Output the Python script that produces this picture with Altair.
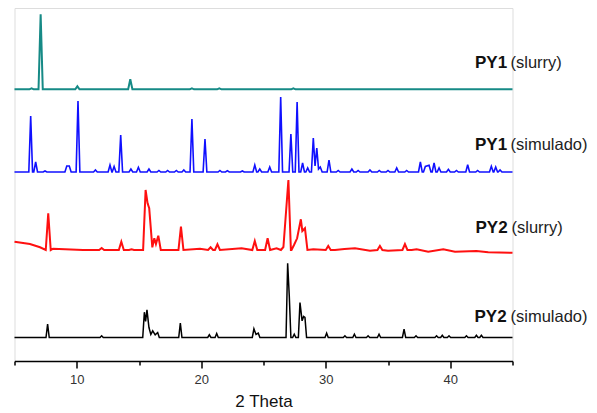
import altair as alt
import pandas as pd

# ---- data (2-theta in degrees, intensity in a.u.) ----
x_domain = [5, 45]
tick_values = [5, 10, 15, 20, 25, 30, 35, 40, 45]

series_names = ["PY1 (slurry)", "PY1 (simulado)", "PY2 (slurry)", "PY2 (simulado)"]
series_offsets = [271.7, 189.0, 111.0, 23.5]

teal_pos = [6.37, 7.1, 10.05, 14.3, 19.25, 21.45, 27.4]
teal_int = [1, 75, 3, 10, 1, 1, 1]

blue_pos = [6.30, 6.70, 7.45, 9.2, 9.4, 10.1, 11.5, 12.67, 13.0, 13.53, 14.35, 14.95, 15.8,
            16.6, 17.3, 18.0, 18.6, 19.25, 20.3, 21.5, 22.1, 23.3, 24.3, 24.7, 25.5, 26.38,
            27.2, 27.7, 28.14, 28.55, 29.0, 29.14, 29.28, 29.42, 29.56, 30.26, 31.0, 32.1,
            32.6, 33.55, 34.3, 35.0, 35.7, 36.5, 37.6, 38.0, 38.3, 38.7, 39.1, 39.85, 40.5,
            41.4, 42.2, 43.3, 43.65, 44.0]
blue_int = [56, 10, 1, 6, 6, 71, 2, 7, 5.5, 37, 3, 4.7, 3,
            1.5, 1.5, 1.5, 2, 53, 33, 1.5, 1.3, 1, 7, 3, 5, 75,
            38, 70, 9, 4, 34, 6, 24, 3, 5, 12, 1.5, 3,
            1.5, 2, 1.5, 1.5, 4, 1.5, 10, 5.5, 6.7, 9, 4, 2.7, 1.5,
            7.3, 1.5, 5.7, 5, 2]

red_pos = [7.71, 12.0, 13.58, 14.4, 15.53, 15.69, 15.82, 16.07, 16.23, 16.36, 16.55, 18.37,
           20.75, 21.3, 24.3, 25.33, 26.6, 27.0, 27.45, 27.7, 28.0, 28.12, 28.33, 30.2,
           34.35, 36.36]
red_int = [36.7, 2, 8.3, 0.7, 60, 46.7, 41.7, 2.7, 11.7, 6, 14.3, 23.3,
           2.7, 5.7, 9, 11.7, 3, 70, 5, 11.7, 30.7, 19, 21.7, 4,
           4, 6]
red_bg_pos = [5.0, 6.24, 7.05, 8.1, 10.5, 19.9, 23.24, 26.05, 29.0, 30.74, 31.5, 32.35,
              33.55, 35.0, 36.9, 37.3, 38.23, 39.44, 40.38, 42.1, 43.05, 45.0]
red_bg_int = [8.3, 6, 2.7, 1.3, 0, 1.3, 1.7, 1.7, 0.7, 0, 1, 1.7,
              -0.7, -0.7, 0, 0.7, -1.7, 0.7, -1.7, -1, -2.3, -2.7]

black_pos = [7.66, 12.0, 15.43, 15.53, 15.64, 15.8, 15.95, 16.1, 16.3, 16.5, 18.32, 20.65,
             21.24, 24.23, 24.4, 24.58, 26.94, 27.07, 27.47, 27.93, 28.1, 28.22, 28.33,
             30.07, 31.54, 32.3, 33.4, 34.28, 36.29, 37.25, 38.9, 39.36, 39.9, 41.3, 42.1, 42.5]
black_int = [13.3, 1.7, 25.3, 16, 27.7, 10, 3, 6.7, 2.7, 5, 14.3, 2.7,
             4, 8.7, 3, 4.3, 74.3, 41.7, 3.3, 35, 16.7, 21, 20,
             4.3, 1.7, 3.3, 1.7, 3.3, 8.3, 1.7, 1.7, 2.3, 1.7, 1.7, 2.3, 2.3]

bold_labels = ["PY1", "PY1", "PY2", "PY2"]
rest_labels = ["(slurry)", "(simulado)", "(slurry)", "(simulado)"]


def build_table(pos, inten, half_width, offset, bg_pos=None, bg_int=None):
    """Peak list -> polyline vertices (foot, apex, foot), plus start/end baseline."""
    rows = []
    n = len(pos)
    for i in range(n):
        p, h = pos[i], inten[i]
        if i == 0 or p - pos[i - 1] > 2 * half_width:
            rows.append((p - half_width, 0.0))
        rows.append((p, h))
        if i == n - 1 or pos[i + 1] - p > 2 * half_width:
            rows.append((p + half_width, 0.0))
    if bg_pos is None:
        rows.append((x_domain[0], 0.0))
        rows.append((x_domain[1], 0.0))
    else:
        rows.extend(zip(bg_pos, bg_int))
    df = pd.DataFrame(rows, columns=["theta", "intensity"]).sort_values("theta")
    df["y"] = df["intensity"] + offset
    return df


tables = [
    build_table(teal_pos, teal_int, 0.17, series_offsets[0]),
    build_table(blue_pos, blue_int, 0.15, series_offsets[1]),
    build_table(red_pos, red_int, 0.2, series_offsets[2], red_bg_pos, red_bg_int),
    build_table(black_pos, black_int, 0.13, series_offsets[3]),
]
colors = ["#168a86", "#1010ff", "#ff1010", "#000000"]
widths = [2.0, 1.6, 2.0, 1.5]

x_enc = alt.X(
    "theta:Q",
    scale=alt.Scale(domain=x_domain, nice=False, zero=False),
    axis=alt.Axis(
        title="2 Theta",
        values=tick_values,
        labelExpr="datum.value % 10 === 0 ? datum.label : ''",
        tickSize={"condition": {"test": "datum.value % 10 === 0", "value": 7}, "value": 4},
        grid=False,
        domainColor="#000000",
        domainWidth=1.5,
        tickColor="#000000",
        tickWidth=1.5,
        labelFontSize=13,
        labelColor="#333333",
        labelPadding=5,
        titleFontSize=17,
        titleFontWeight="normal",
        titleColor="#111111",
        titlePadding=7,
    ),
)
y_enc = alt.Y("y:Q", scale=alt.Scale(domain=[0, 353], nice=False, zero=False), axis=None)

layers = []
for df, c, w in zip(tables, colors, widths):
    layers.append(
        alt.Chart(df).mark_line(color=c, strokeWidth=w, interpolate="linear").encode(
            x=x_enc, y=y_enc, order="theta:Q"
        )
    )

label_xy_bold = [(460.5, 60), (460.5, 142), (461.0, 225.3), (460.0, 313.7)]
label_xy_rest = [(496.0, 60), (496.0, 142), (497.0, 225.3), (496.0, 313.7)]
for b, r, (bx, by), (rx, ry) in zip(bold_labels, rest_labels, label_xy_bold, label_xy_rest):
    layers.append(
        alt.Chart(pd.DataFrame({"t": [b]})).mark_text(
            align="left", baseline="alphabetic", fontSize=17, fontWeight="bold", color="#111111"
        ).encode(text="t:N", x=alt.value(bx), y=alt.value(by))
    )
    layers.append(
        alt.Chart(pd.DataFrame({"t": [r]})).mark_text(
            align="left", baseline="alphabetic", fontSize=16.5, fontWeight="normal", color="#222222"
        ).encode(text="t:N", x=alt.value(rx), y=alt.value(ry))
    )

chart = (
    alt.layer(*layers)
    .properties(
        width=498,
        height=353,
        autosize=alt.AutoSizeParams(type="none"),
        padding={"left": 6.5, "top": 0, "right": 76.5, "bottom": 52},
    )
    .configure_view(stroke=None)
    .configure(font="Liberation Sans", background="white")
)

chart.save("out.html", embed_options={"renderer": "svg", "actions": False})
